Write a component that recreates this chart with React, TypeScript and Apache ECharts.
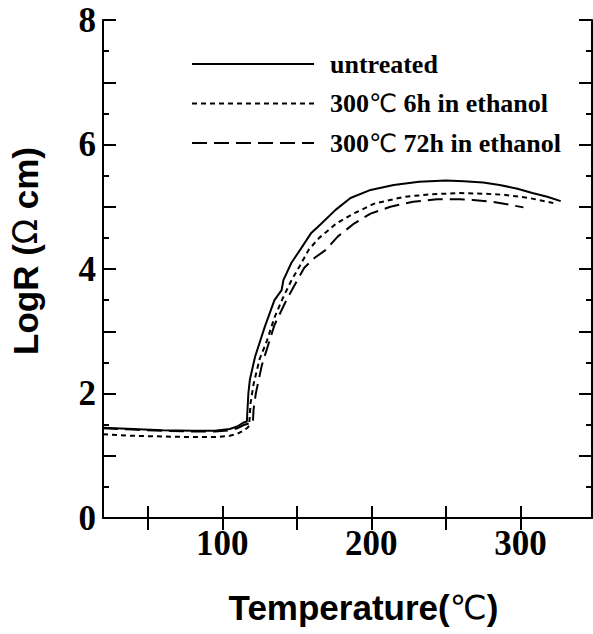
import React, { useEffect, useRef } from "react";
import * as echarts from "echarts";

// Temperature (°C) and LogR values
const untreatedT = [20, 40, 60, 80, 95, 105, 110, 114, 116.5, 117.5, 118.5, 122, 128.5, 135, 139.8, 141, 146.4, 152, 159.7, 166, 176, 186, 199.5, 215, 232, 250, 262, 275, 286, 298, 308, 318, 327];
const untreatedR = [1.45, 1.43, 1.41, 1.40, 1.40, 1.43, 1.47, 1.53, 1.55, 2.0, 2.22, 2.59, 3.07, 3.5, 3.66, 3.82, 4.1, 4.3, 4.58, 4.72, 4.95, 5.14, 5.27, 5.35, 5.40, 5.42, 5.41, 5.39, 5.35, 5.29, 5.22, 5.16, 5.09];

const h6T = [20, 40, 60, 80, 95, 105, 110, 114, 117, 118, 119, 121, 125, 130, 135, 140, 146, 152, 158, 165, 171, 177, 188, 202, 222, 240, 260, 275, 290, 306, 322];
const h6R = [1.345, 1.32, 1.31, 1.30, 1.30, 1.32, 1.35, 1.40, 1.45, 1.48, 1.85, 2.15, 2.55, 2.85, 3.22, 3.5, 3.8, 4.05, 4.31, 4.5, 4.62, 4.74, 4.89, 5.05, 5.16, 5.2, 5.22, 5.21, 5.19, 5.14, 5.06];

const h72T = [20, 40, 60, 80, 95, 105, 110, 114, 118, 120.5, 121, 122.5, 126.5, 130, 135, 142, 148, 155, 162, 169.6, 177.4, 188.4, 199.5, 212.8, 228, 244, 259, 268, 284, 302];
const h72R = [1.44, 1.42, 1.40, 1.39, 1.39, 1.41, 1.44, 1.49, 1.52, 1.52, 1.75, 2.0, 2.45, 2.72, 3.1, 3.45, 3.72, 4.02, 4.18, 4.31, 4.52, 4.73, 4.89, 5.0, 5.08, 5.12, 5.12, 5.11, 5.07, 4.99];

const seriesNames = ["untreated", "300℃ 6h in ethanol", "300℃ 72h in ethanol"];
const xTicks = [50, 100, 150, 200, 250, 300];
const xLabels = [100, 200, 300];
const yLabels = [0, 2, 4, 6, 8];

const zip = (a: number[], b: number[]) => a.map((v, i) => [v, b[i]]);

export default function App() {
  const ref = useRef<HTMLDivElement>(null);
  useEffect(() => {
    if (!ref.current) return;
    const chart = echarts.init(ref.current, null, { renderer: "svg" });
    const serif = "'Liberation Serif', 'Times New Roman', serif";
    const sans = "'Liberation Sans', Arial, sans-serif";
    const thin = "'DejaVu Sans', sans-serif";
    const axisLine = { show: true, lineStyle: { color: "#000", width: 2 } };
    const baseX = {
      type: "value",
      min: 20,
      max: 348,
      axisLine,
      splitLine: { show: false },
      axisTick: { show: true, inside: true, length: 12, customValues: xTicks, lineStyle: { color: "#000", width: 2 } },
    };
    const baseY = {
      type: "value",
      min: 0,
      max: 8,
      interval: 1,
      axisLine,
      splitLine: { show: false },
      axisTick: { show: true, inside: true, length: 13, lineStyle: { color: "#000", width: 2 } },
      minorTick: { show: true, splitNumber: 2, length: 6, lineStyle: { color: "#000", width: 2 } },
    };
    const mkSeries = (name: string, data: number[][], type: any) => ({
      name,
      type: "line",
      data,
      symbol: "none",
      showSymbol: false,
      smooth: false,
      lineStyle: { color: "#000", width: 2, type },
      itemStyle: { color: "#000" },
    });
    chart.setOption({
      animation: false,
      backgroundColor: "#fff",
      grid: { left: 100, right: 1, top: 20, bottom: 116, containLabel: false },
      legend: {
        orient: "vertical",
        left: 186,
        top: 46,
        itemWidth: 122,
        itemHeight: 20,
        itemGap: 13.5,
        data: seriesNames,
        itemStyle: { opacity: 0 },
        textStyle: {
          fontFamily: serif,
          fontWeight: "bold",
          fontSize: 26,
          lineHeight: 26,
          color: "#000",
          padding: [0, 0, 0, 11],
          rich: {
            c: { fontFamily: thin, fontWeight: "normal", fontSize: 25, lineHeight: 26, color: "#000" },
          },
        },
        formatter: (n: string) => n.replace("℃", "{c|℃}"),
        selectedMode: false,
      },
      xAxis: [
        {
          ...baseX,
          position: "bottom",
          axisLabel: {
            customValues: xLabels,
            margin: 8,
            fontFamily: serif,
            fontWeight: "bold",
            fontSize: 35,
            color: "#000",
          },
          name: "Temperature({c|℃})",
          nameLocation: "middle",
          nameGap: 72,
          nameTextStyle: {
            fontFamily: sans,
            fontWeight: "bold",
            fontSize: 35,
            color: "#000",
            padding: [0, 0, 0, 32],
            rich: { c: { fontFamily: thin, fontWeight: "normal", fontSize: 33, color: "#000" } },
          },
        },
        { ...baseX, position: "top", axisLabel: { show: false } },
      ],
      yAxis: [
        {
          ...baseY,
          position: "left",
          axisLabel: {
            customValues: yLabels,
            margin: 7,
            fontFamily: serif,
            fontWeight: "bold",
            fontSize: 35,
            color: "#000",
          },
          name: "LogR ({o|Ω} cm)",
          nameLocation: "middle",
          nameGap: 60,
          nameTextStyle: {
            fontFamily: sans,
            fontWeight: "bold",
            fontSize: 35,
            color: "#000",
            padding: [0, 0, 0, 36],
            rich: { o: { fontFamily: thin, fontWeight: "normal", fontSize: 33, color: "#000" } },
          },
        },
        { ...baseY, position: "right", axisLabel: { show: false } },
      ],
      series: [
        mkSeries(seriesNames[0], zip(untreatedT, untreatedR), "solid"),
        mkSeries(seriesNames[1], zip(h6T, h6R), [5, 4]),
        mkSeries(seriesNames[2], zip(h72T, h72R), [15, 7]),
      ],
    });
    return () => chart.dispose();
  }, []);
  return (
    <div
      ref={ref}
      style={{ position: "fixed", left: 0, top: 0, width: 593, height: 634, background: "#fff" }}
    />
  );
}
